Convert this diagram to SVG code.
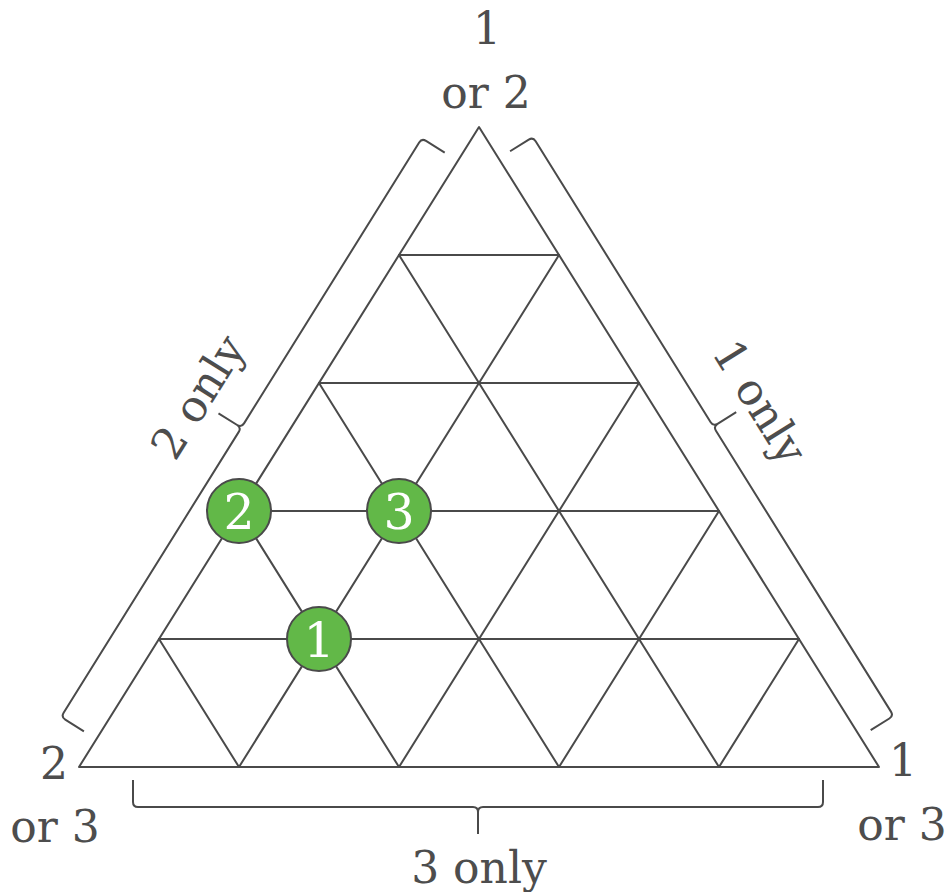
<svg xmlns="http://www.w3.org/2000/svg" width="948" height="892" viewBox="0 0 948 892">
<style>
.ln{stroke:#4a4a4a;stroke-width:2;fill:none;stroke-linejoin:round;stroke-linecap:round}
.br{stroke:#4a4a4a;stroke-width:2;fill:none;stroke-linejoin:round}
.lb{font-family:"DejaVu Serif","Liberation Serif",serif;font-size:44px;fill:#4d4d4d;text-anchor:middle}
.nd{fill:#62b848;stroke:#4a4a4a;stroke-width:2}
.nt{font-family:"DejaVu Serif","Liberation Serif",serif;font-size:49px;fill:#ffffff;text-anchor:middle}
</style>
<defs>
<path id="braceL" d="M0,27 L0,5 Q0,0 5,0 L336,0 Q341,0 341,-5 L341,-27 M341,-5 Q341,0 346,0 L677,0 Q682,0 682,5 L682,27"/>
<path id="braceB" d="M0,27 L0,5 Q0,0 5,0 L340,0 Q345,0 345,-5 L345,-27 M345,-5 Q345,0 350,0 L685,0 Q690,0 690,5 L690,27"/>
</defs>
<rect width="948" height="892" fill="#ffffff"/>
<g id="connectors" class="ln">
<path d="M479,127 L79,767 L879,767 Z"/>
<line x1="399" y1="255" x2="559" y2="255"/>
<line x1="319" y1="383" x2="639" y2="383"/>
<line x1="239" y1="511" x2="719" y2="511"/>
<line x1="159" y1="639" x2="799" y2="639"/>
<line x1="239" y1="767" x2="559" y2="255"/>
<line x1="399" y1="767" x2="639" y2="383"/>
<line x1="559" y1="767" x2="719" y2="511"/>
<line x1="719" y1="767" x2="799" y2="639"/>
<line x1="719" y1="767" x2="399" y2="255"/>
<line x1="559" y1="767" x2="319" y2="383"/>
<line x1="399" y1="767" x2="239" y2="511"/>
<line x1="239" y1="767" x2="159" y2="639"/>
</g>
<g id="braces" class="br">
<use href="#braceL" transform="translate(61,717) rotate(-58.06)"/>
<use href="#braceL" transform="translate(533,137) rotate(58.08)"/>
<use href="#braceB" transform="translate(823,807) rotate(180)"/>
</g>
<g id="labels" class="lb">
<text x="487" y="44">1</text>
<text x="486" y="108">or 2</text>
<text x="54" y="779">2</text>
<text x="55" y="842">or 3</text>
<text x="903" y="776">1</text>
<text x="902" y="840">or 3</text>
<text x="479" y="883">3 only</text>
<text transform="translate(211,405) rotate(-58)">2 only</text>
<text transform="translate(747,410) rotate(58)">1 only</text>
</g>
<g id="node2"><circle class="nd" cx="239" cy="511" r="32"/><text class="nt" x="239" y="529">2</text></g>
<g id="node3"><circle class="nd" cx="399" cy="511" r="32"/><text class="nt" x="399" y="529">3</text></g>
<g id="node1"><circle class="nd" cx="319" cy="639" r="32"/><text class="nt" x="319" y="657">1</text></g>
</svg>
